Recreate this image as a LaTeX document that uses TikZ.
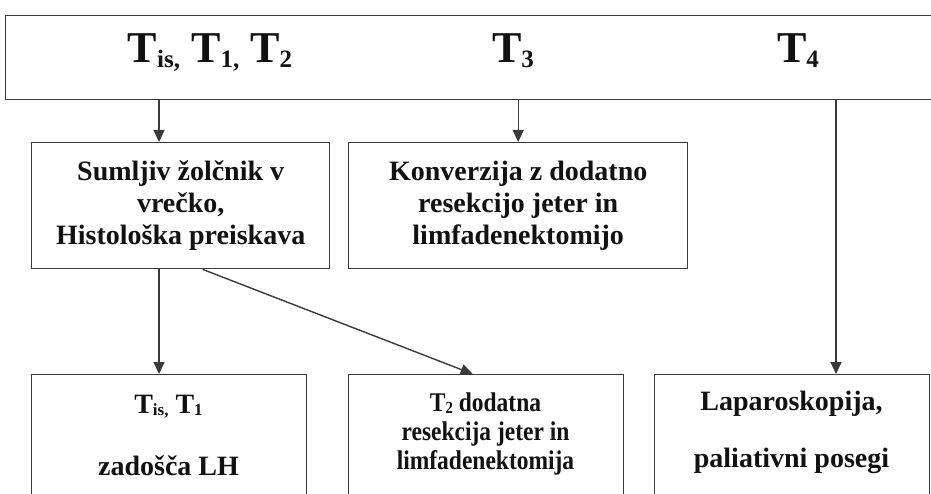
\documentclass[tikz,border=0pt]{standalone}
\usepackage{fontspec}
\setmainfont{Liberation Serif}
\newfontfamily\narrowserif[FakeStretch=0.87]{Liberation Serif}
\usetikzlibrary{arrows.meta,positioning}
\definecolor{stageLine}{HTML}{3A3A3A}
\definecolor{stageInk}{HTML}{111111}
\newcommand\tsub[3]{\raisebox{#1}{\fontsize{#2}{#2}\selectfont #3}}

\begin{document}
\begin{tikzpicture}[x=1pt,y=-1pt,>={Triangle[width=11pt,length=12pt]},line join=miter]
\useasboundingbox (0,0) rectangle (931,494);
\path[fill=white] (0,0) rectangle (931,494);
\clip (0,0) rectangle (931,494);
\tikzset{frame/.style={draw=stageLine,line width=1.4pt,inner sep=0pt,text=stageInk},link/.style={draw=stageLine,line width=1.4pt,->},head/.style={anchor=base,text=stageInk,font=\bfseries\fontsize{44}{44}\selectfont},midtext/.style={frame,anchor=north west,align=center,minimum height=126pt,font=\bfseries\fontsize{28}{32}\selectfont},lowbox/.style={frame,anchor=north west,minimum width=275pt,minimum height=140pt},lowtext/.style={anchor=base,align=center,text=stageInk,font=\bfseries\fontsize{28}{29}\selectfont}}
% stage header
\node[frame,anchor=north west,minimum width=940pt,minimum height=84pt] (stages) at (5,15) {};
\node[head] (tlow) at (210,63) {T\tsub{-5pt}{25}{is,} T\tsub{-5pt}{25}{1,} T\tsub{-5pt}{25}{2}};
\node[head] (tthree) at (513,63) {T\tsub{-5pt}{25}{3}};
\node[head] (tfour) at (798,63) {T\tsub{-5pt}{25}{4}};
% first decisions
\node[midtext,minimum width=298pt] (suspect) at (31,142) {Sumljiv žolčnik v\\vrečko,\\Histološka preiskava};
\node[midtext,minimum width=339pt] (convert) at (348,142) {Konverzija z dodatno\\resekcijo jeter in\\limfadenektomijo};
% outcomes
\node[lowbox] (early) at (31,374) {};
\node[lowbox] (extra) at (348,374) {};
\node[lowbox] (late) at (654,374) {};
\node[lowtext] (earlyA) at (168.5,413) {T\tsub{-2pt}{17}{is,} T\tsub{-2pt}{17}{1}};
\node[lowtext] (earlyB) at (168.5,475) {zadošča LH};
\node[lowtext,font=\bfseries\narrowserif\fontsize{27}{29}\selectfont] (extraA) at (485.5,469) {T\tsub{-2pt}{17}{2} dodatna\\resekcija jeter in\\limfadenektomija};
\node[lowtext] (lateA) at (791.5,410) {Laparoskopija,};
\node[lowtext] (lateB) at (791.5,467) {paliativni posegi};
% connectors
\coordinate (colA) at (159,0);
\coordinate (colD) at (836,0);
\draw[link] (stages.south -| colA) -- (suspect.north -| colA);
\draw[link] (stages.south -| convert.north) -- (convert.north);
\draw[link] (stages.south -| colD) -- (late.north -| colD);
\draw[link] (suspect.south -| colA) -- (early.north -| colA);
\draw[link] ([xshift=22pt]suspect.south) -- ([xshift=-13.5pt]extra.north);
\end{tikzpicture}
\end{document}
